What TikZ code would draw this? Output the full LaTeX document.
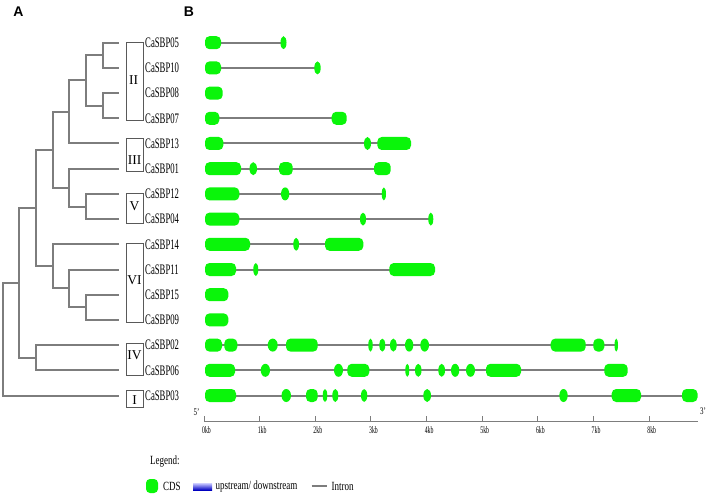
\documentclass[tikz,border=0pt]{standalone}
\usepackage{fontspec}
\usepackage{graphicx}
\setmainfont{Liberation Serif}
\newfontfamily\hv{Liberation Sans}
\newcommand\cnd[2]{\scalebox{#1}[1]{#2}}
\definecolor{cds}{RGB}{10,245,10}
\definecolor{lgray}{RGB}{125,125,125}
\tikzset{
  exon/.style={fill=cds},
  intron/.style={draw=lgray,line width=2pt},
  branch/.style={draw=lgray,line width=2pt},
  famboxst/.style={draw=black!65,line width=0.8pt},
  famlab/.style={font=\fontsize{13.5}{13.5}\selectfont,inner sep=0pt},
  genelab/.style={font=\fontsize{14.5}{14.5}\selectfont,inner sep=0pt,anchor=west},
  ticklab/.style={font=\fontsize{10}{10}\selectfont,inner sep=0pt,anchor=north},
  leglab/.style={font=\fontsize{12.5}{12.5}\selectfont,inner sep=0pt,anchor=west},
}
\newcommand\ex[3]{%
  \pgfmathsetmacro\exw{#3-#2}%
  \pgfmathsetmacro\exc{(#2+#3)/2}%
  \ifdim\exw pt<10.5pt
    \fill[exon] (\exc,#1) ellipse [x radius=\exw/2, y radius=6.5];
  \else
    \fill[exon,rounded corners=4.5pt] (#2,#1-6.5) rectangle (#3,#1+6.5);
  \fi}
\newcommand\intr[3]{\draw[intron] (#2,#1) -- (#3,#1);}
\begin{document}
\begin{tikzpicture}[x=1pt,y=-1pt]
\useasboundingbox (0,0) rectangle (708,497);
\fill[white] (0,0) rectangle (708,497);
% panel letters
\node[font=\hv\bfseries\fontsize{14}{14}\selectfont,inner sep=0pt] (pa) at (18.5,12) {A};
\node[font=\hv\bfseries\fontsize{14}{14}\selectfont,inner sep=0pt] (pb) at (189,12) {B};
% leaves
\foreach \nm/\yy in {05/42.7,10/67.9,08/93.1,07/118.3,13/143.5,01/168.7,12/193.9,04/219.1,14/244.3,11/269.5,15/294.7,09/319.9,02/345.1,06/370.3,03/395.5}{
  \coordinate (L\nm) at (119,\yy);
  \node[genelab] (g\nm) at (145,\yy) {\cnd{0.6}{CaSBP\nm}};
}
% internal nodes
\coordinate (na) at (103,55.3);
\coordinate (nb) at (103,105.7);
\coordinate (nc) at (86,80.5);
\coordinate (nd) at (69,112);
\coordinate (ne) at (86,206.5);
\coordinate (nf) at (69,187.6);
\coordinate (ng) at (53,149.8);
\coordinate (nh) at (86,307.3);
\coordinate (ni) at (69,288.4);
\coordinate (nj) at (53,266.35);
\coordinate (nk) at (36,208.1);
\coordinate (nl) at (36,357.7);
\coordinate (nm) at (19,282.9);
\coordinate (nr) at (3,339.2);
\foreach \p/\c in {na/L05,na/L10,nb/L08,nb/L07,nc/na,nc/nb,nd/nc,nd/L13,ne/L12,ne/L04,nf/L01,nf/ne,ng/nd,ng/nf,nh/L15,nh/L09,ni/L11,ni/nh,nj/L14,nj/ni,nk/ng,nk/nj,nl/L02,nl/L06,nm/nk,nm/nl,nr/nm,nr/L03}{
  \draw[branch] (\p) |- (\c);
}
% family boxes
\draw[famboxst] (126,42) rectangle (143.5,120);
\draw[famboxst] (126,138) rectangle (143.5,171);
\draw[famboxst] (126,193) rectangle (143.5,223);
\draw[famboxst] (126,243) rectangle (143.5,322);
\draw[famboxst] (126,343) rectangle (143.5,375);
\draw[famboxst] (126,390) rectangle (143.5,407);
\node[famlab] (fII) at (133.5,80) {II};
\node[famlab] (fIII) at (134.5,160) {III};
\node[famlab] (fV) at (134.5,206) {V};
\node[famlab] (fVI) at (134.5,280) {VI};
\node[famlab] (fIV) at (134.5,355) {IV};
\node[famlab] (fI) at (134.5,400) {I};
% gene structures
\intr{42.7}{210}{283}
\ex{42.7}{205}{221}\ex{42.7}{280.5}{286.5}
\intr{67.9}{210}{317}
\ex{67.9}{205}{221}\ex{67.9}{314.3}{320.7}
\ex{93.1}{205}{222.7}
\intr{118.3}{210}{340}
\ex{118.3}{205}{219.3}\ex{118.3}{331.7}{346.7}
\intr{143.5}{210}{400}
\ex{143.5}{205}{223.3}\ex{143.5}{364}{371}\ex{143.5}{377.3}{411}
\intr{168.7}{210}{385}
\ex{168.7}{205}{241}\ex{168.7}{249.5}{257}\ex{168.7}{279}{292.7}\ex{168.7}{374}{390.7}
\intr{193.9}{210}{384}
\ex{193.9}{205}{239.3}\ex{193.9}{281}{289.3}\ex{193.9}{381.7}{386}
\intr{219.1}{210}{431}
\ex{219.1}{205}{239.3}\ex{219.1}{360}{366}\ex{219.1}{428.3}{433.3}
\intr{244.3}{210}{350}
\ex{244.3}{205}{250}\ex{244.3}{293.3}{299}\ex{244.3}{325}{363.3}
\intr{269.5}{210}{420}
\ex{269.5}{205}{236}\ex{269.5}{253.3}{258.3}\ex{269.5}{389.3}{435}
\ex{294.7}{205}{228.3}
\ex{319.9}{205}{228.3}
\intr{345.1}{210}{616}
\ex{345.1}{205}{222}\ex{345.1}{224.3}{237.3}\ex{345.1}{267.7}{277.7}\ex{345.1}{286}{317.7}
\ex{345.1}{368.3}{372.7}\ex{345.1}{379.3}{385.3}\ex{345.1}{390}{396.7}\ex{345.1}{405}{413.3}
\ex{345.1}{420.3}{429}\ex{345.1}{550.7}{585.7}\ex{345.1}{593.3}{604.3}\ex{345.1}{614.5}{618}
\intr{370.3}{210}{620}
\ex{370.3}{205}{235}\ex{370.3}{260.7}{270}\ex{370.3}{334}{343}\ex{370.3}{347.3}{369.3}
\ex{370.3}{405.3}{409.3}\ex{370.3}{415}{421.5}\ex{370.3}{438.3}{445}\ex{370.3}{451}{459.3}
\ex{370.3}{466}{475}\ex{370.3}{486}{521}\ex{370.3}{604.3}{627.7}
\intr{395.5}{210}{690}
\ex{395.5}{205}{236}\ex{395.5}{281.5}{291}\ex{395.5}{306}{317.7}\ex{395.5}{322.7}{327.3}
\ex{395.5}{332.3}{338.3}\ex{395.5}{361}{367.3}\ex{395.5}{423.3}{431}\ex{395.5}{559.3}{567.7}
\ex{395.5}{611.7}{641}\ex{395.5}{682}{697.5}
% axis
\coordinate (ax0) at (204,421.7);
\coordinate (ax1) at (698,421.7);
\draw[lgray,line width=1.5pt] (ax0) -- (ax1);
\foreach \k in {0,...,8}{
  \draw[lgray,line width=1pt] (204+55.65*\k,421.7) -- (204+55.65*\k,416);
  \node[ticklab] (t\k) at (206.5+55.65*\k,426) {\cnd{0.58}{\k kb}};
}
\node[ticklab,anchor=center] (p5) at (196.5,412) {\cnd{0.7}{5'}};
\node[ticklab,anchor=center] (p3) at (703,411.5) {\cnd{0.7}{3'}};
% legend
\node[leglab] (lg) at (150,462) {\cnd{0.72}{Legend:}};
\fill[exon,rounded corners=4pt] (146,479) rectangle (158,493);
\node[leglab] (lc) at (163,486) {\cnd{0.72}{CDS}};
\shade[top color=blue!25,bottom color=blue!75!black] (193,483.5) rectangle (212,490);
\node[leglab] (lu) at (215.5,486) {\cnd{0.72}{upstream/ downstream}};
\coordinate (li0) at (311.7,486);
\coordinate (li1) at (326.7,486);
\draw[intron] (li0) -- (li1);
\node[leglab] (li) at (331.5,486) {\cnd{0.72}{Intron}};
\end{tikzpicture}
\end{document}
